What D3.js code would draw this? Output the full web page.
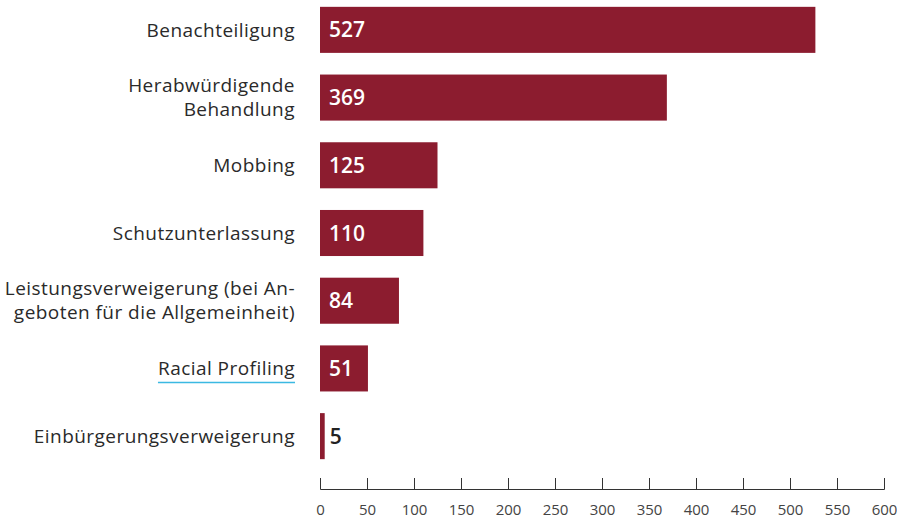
<!DOCTYPE html>
<html>
<head>
<meta charset="utf-8">
<script src="https://cdn.jsdelivr.net/npm/d3@7"></script>
<style>
  body { margin: 0; background: #fff; }
  svg { display: block; }
</style>
</head>
<body>
<div id="chart"></div>
<script>
// data
var categories = [
  ["Benachteiligung"],
  ["Herabwürdigende", "Behandlung"],
  ["Mobbing"],
  ["Schutzunterlassung"],
  ["Leistungsverweigerung (bei An-", "geboten für die Allgemeinheit)"],
  ["Racial Profiling"],
  ["Einbürgerungsverweigerung"]
];
var values = [527, 369, 125, 110, 84, 51, 5];
var ticks = [0, 50, 100, 150, 200, 250, 300, 350, 400, 450, 500, 550, 600];
var linked = ["Racial Profiling"];   // label shown with underline

var width = 897, height = 520;
var barColor = "#8c1c2f";

var svg = d3.select("#chart").append("svg")
  .attr("width", width)
  .attr("height", height);

var x = d3.scaleLinear()
  .domain([0, 600])
  .range([320, 884]);

var y = d3.scaleBand()
  .domain(d3.range(values.length))
  .range([-4, 470])
  .paddingInner(0.32)
  .paddingOuter(0.16);

// bars
svg.selectAll("rect.bar")
  .data(values)
  .enter().append("rect")
  .attr("class", "bar")
  .attr("x", x(0))
  .attr("y", function(d, i) { return y(i); })
  .attr("width", function(d) { return x(d) - x(0); })
  .attr("height", y.bandwidth())
  .attr("fill", barColor);

// value labels: inside if bar is wide enough, else just outside
svg.selectAll("text.val")
  .data(values)
  .enter().append("text")
  .attr("class", "val")
  .attr("x", function(d) { return (x(d) - x(0) > 40) ? x(0) + 9 : x(d) + 5; })
  .attr("y", function(d, i) { return y(i) + y.bandwidth() / 2; })
  .attr("dy", "0.36em")
  .attr("fill", function(d) { return (x(d) - x(0) > 40) ? "#fff" : "#222"; })
  .style("font-family", "'Open Sans', sans-serif")
  .style("font-weight", 600)
  .style("font-size", "21px")
  .text(function(d) { return d; });

// category labels, one text per line
var lineH = 24;
var labels = svg.selectAll("g.cat")
  .data(categories)
  .enter().append("g")
  .attr("class", "cat")
  .attr("transform", function(d, i) {
    return "translate(295," + (y(i) + y.bandwidth() / 2) + ")";
  });

labels.each(function(lines) {
  var g = d3.select(this);
  lines.forEach(function(line, k) {
    g.append("text")
      .attr("text-anchor", "end")
      .attr("fill", "#2a2a2a")
      .attr("y", (k - (lines.length - 1) / 2) * lineH)
      .attr("dy", "0.35em")
      .style("font-family", "'Open Sans', sans-serif")
      .style("font-size", "19px")
      .style("letter-spacing", "0.45px")
      .text(line);
  });
  if (linked.indexOf(lines[0]) >= 0) {
    var bb = g.select("text").node().getBBox();
    g.append("line")
      .attr("x1", bb.x).attr("x2", 0)
      .attr("y1", 14).attr("y2", 14)
      .attr("stroke", "#3bb9e2")
      .attr("stroke-width", 1.5);
  }
});

// axis
var axis = d3.axisBottom(x)
  .tickValues(ticks)
  .tickSizeInner(-11)
  .tickSizeOuter(-11)
  .tickPadding(15)
  .tickFormat(d3.format("d"));

var ax = svg.append("g")
  .attr("transform", "translate(0,489)")
  .call(axis);

ax.select(".domain").attr("stroke", "#333");
ax.selectAll(".tick line").attr("stroke", "#333");
ax.selectAll(".tick text")
  .attr("fill", "#444")
  .style("font-family", "'Open Sans', sans-serif")
  .style("font-size", "15px");
</script>
</body>
</html>
